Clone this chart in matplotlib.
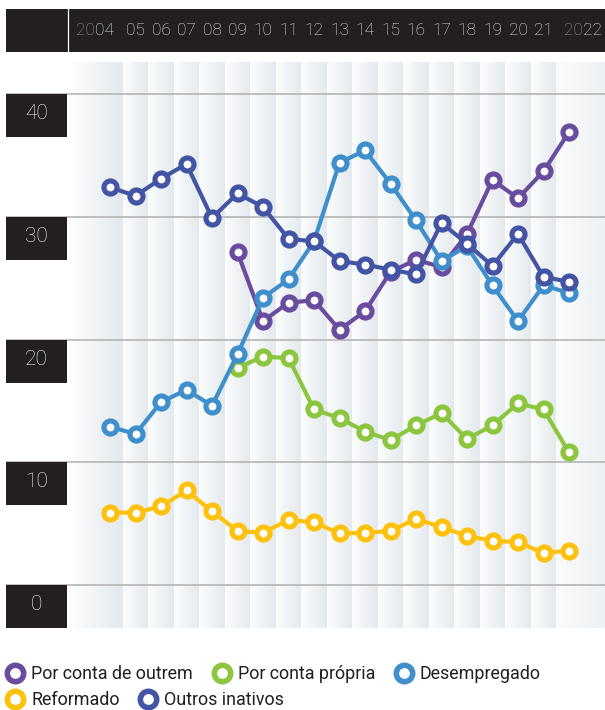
import matplotlib
matplotlib.use('Agg')
import matplotlib.pyplot as plt
import numpy as np
from matplotlib.lines import Line2D
from matplotlib.patches import Rectangle
from matplotlib.colors import LinearSegmentedColormap
import matplotlib.transforms as mtransforms
from matplotlib import font_manager as fm

# ---------------- data ----------------
years = list(range(2004, 2023))
year_labels = ['2004', '05', '06', '07', '08', '09', '10', '11', '12', '13',
               '14', '15', '16', '17', '18', '19', '20', '21', '2022']
yticks = [0, 10, 20, 30, 40]

series_names = ['Por conta de outrem', 'Por conta própria', 'Desempregado',
                'Reformado', 'Outros inativos']

nan = np.nan
conta_outrem = [nan, nan, nan, nan, nan,
                27.1, 21.5, 23.0, 23.2, 20.8, 22.3, 25.5, 26.5, 25.9, 28.6,
                33.0, 31.5, 33.7, 36.9]
conta_propria = [nan, nan, nan, nan, nan,
                 17.7, 18.6, 18.5, 14.3, 13.6, 12.5, 11.8, 13.0, 14.0, 11.9,
                 13.0, 14.8, 14.3, 10.8]
desempregado = [12.9, 12.3, 14.9, 15.9, 14.6, 18.8, 23.4, 24.9, 28.0, 34.4,
                35.4, 32.7, 29.7, 26.4, 27.6, 24.4, 21.5, 24.4, 23.8]
reformado = [5.9, 5.9, 6.4, 7.7, 6.0, 4.4, 4.25, 5.3, 5.1, 4.2,
             4.25, 4.4, 5.4, 4.7, 4.0, 3.6, 3.5, 2.6, 2.8]
outros_inativos = [32.4, 31.7, 33.1, 34.3, 29.9, 31.9, 30.8, 28.2, 28.0, 26.4,
                   26.1, 25.7, 25.3, 29.5, 27.8, 26.0, 28.6, 25.1, 24.7]

colors = ['#6a4c9f', '#8cc63f', '#3f8fcd', '#fec10e', '#4454a5']
series = [conta_outrem, conta_propria, desempregado, reformado, outros_inativos]

# ---------------- fonts ----------------
avail = {f.name for f in fm.fontManager.ttflist}
NARROW = 'Liberation Sans Narrow' in avail
LEG_FONT = ['Liberation Sans Narrow', 'Roboto', 'DejaVu Sans'] if NARROW else ['Roboto', 'DejaVu Sans']
LEG_SIZE = 15.0 if NARROW else 12.9
NUM_FONT = ['Roboto', 'DejaVu Sans']

W, H = 605, 710
fig = plt.figure(figsize=(W / 100, H / 100), dpi=100)
fig.patch.set_facecolor('white')

# pixel geometry
px_per_year = 25.5
px_per_unit = 12.275
x2004 = 110
y0px, y40px = 585, 94
ax_left, ax_right = 6, 605
ax_top, ax_bot = 62, 628

xmin = 2004 - (x2004 - ax_left) / px_per_year
xmax = 2004 + (ax_right - x2004) / px_per_year
ymax = 40 + (y40px - ax_top) / px_per_unit
ymin = -(ax_bot - y0px) / px_per_unit

ax = fig.add_axes([ax_left / W, (H - ax_bot) / H, (ax_right - ax_left) / W, (ax_bot - ax_top) / H])
ax.set_xlim(xmin, xmax)
ax.set_ylim(ymin, ymax)
ax.axis('off')

# background gradient bands
band_cmap = LinearSegmentedColormap.from_list('band', ['#fcfdfd', '#e3e9ed'])
last_cmap = LinearSegmentedColormap.from_list('bandl', ['#fafbfc', '#edf1f3'])
grad = np.linspace(0, 1, 64).reshape(1, -1)
first_left = 2004 - (x2004 - 72) / px_per_year
for i, yr in enumerate(years):
    x0 = first_left if i == 0 else yr - 0.5
    x1 = xmax if i == len(years) - 1 else yr + 0.5
    cm = last_cmap if i == len(years) - 1 else band_cmap
    ax.imshow(grad, cmap=cm, aspect='auto', extent=(x0, x1, ymin, ymax),
              zorder=0, interpolation='bilinear')
ax.set_xlim(xmin, xmax)
ax.set_ylim(ymin, ymax)

# gridlines and y label boxes
blend = mtransforms.blended_transform_factory(ax.transAxes, ax.transData)
box_w = (67 - ax_left) / (ax_right - ax_left)
box_h = 43 / px_per_unit
for v in yticks:
    ax.axhline(v, color='#b5b5b5', lw=1.2, zorder=1)
    ax.add_patch(Rectangle((0, v - box_h), box_w, box_h, transform=blend,
                           facecolor='#231f20', edgecolor='none', zorder=2))
    ax.text(box_w / 2, v - box_h / 2 + 0.15, str(v), transform=blend, ha='center', va='center',
            color='#f2f2f2', fontsize=15, family=NUM_FONT, fontweight='light', zorder=3)

# data lines
for vals, c in zip(series, colors):
    ax.plot(years, vals, color=c, lw=3.0, marker='o', ms=9.4, mew=3.7,
            mfc='white', mec=c, solid_joinstyle='round', solid_capstyle='round', zorder=4)

# header band
hdr_top, hdr_bot = 9, 52
hax = fig.add_axes([ax_left / W, (H - hdr_bot) / H, (ax_right - ax_left) / W, (hdr_bot - hdr_top) / H])
hax.set_xlim(xmin, xmax)
hax.set_ylim(0, 1)
hax.set_facecolor('#231f20')
for s in hax.spines.values():
    s.set_visible(False)
hax.set_xticks([])
hax.set_yticks([])
hax.axvline(2004 - (x2004 - 67.5) / px_per_year, color='white', lw=0.9)

hdr_kw = dict(fontsize=12.5, family=NUM_FONT, fontweight='light', va='center')
for yr, lab in zip(years, year_labels):
    if len(lab) == 2:
        hax.text(yr, 0.5, lab, ha='center', color='#e6e6e6', **hdr_kw)
t04 = hax.text(2004 + 0.16, 0.5, year_labels[0][2:], ha='right', color='#e6e6e6', **hdr_kw)
hax.annotate(year_labels[0][:2], xy=(0, 0.5), xycoords=t04, ha='right', color='#9a9a9a', **hdr_kw)
t20 = hax.text(2022 - 0.2, 0.5, year_labels[-1][:2], ha='left', color='#9a9a9a', **hdr_kw)
hax.annotate(year_labels[-1][2:], xy=(1, 0.5), xycoords=t20, ha='left', color='#e6e6e6', **hdr_kw)

# legend
def handle(c):
    return Line2D([], [], ls='none', marker='o', ms=11.8, mew=4.0, mfc='white', mec=c)

leg_kw = dict(loc='center left', frameon=False, borderpad=0, borderaxespad=0,
              handlelength=1.0, handletextpad=0.4, columnspacing=1.1,
              prop={'family': LEG_FONT, 'size': LEG_SIZE}, labelcolor='#231f20')
fig.legend(handles=[handle(c) for c in colors[:3]], labels=series_names[:3], ncol=3,
           bbox_to_anchor=(6 / W, (H - 674) / H), **leg_kw)
fig.legend(handles=[handle(c) for c in colors[3:]], labels=series_names[3:], ncol=2,
           bbox_to_anchor=(6 / W, (H - 700) / H), **leg_kw)

fig.savefig('out.png', dpi=100, facecolor='white')
